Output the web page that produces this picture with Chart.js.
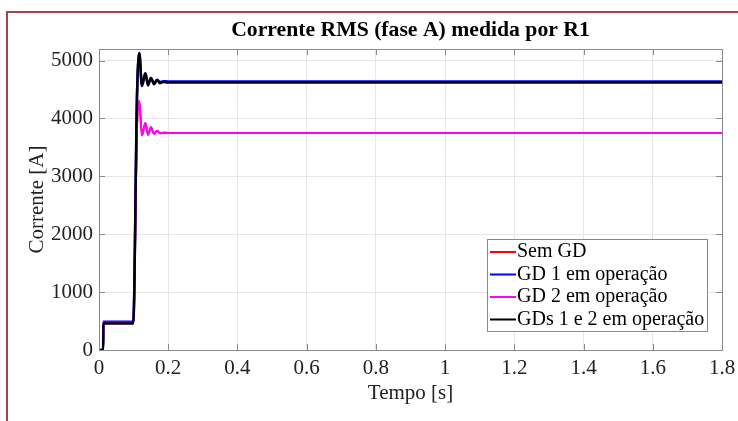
<!DOCTYPE html>
<html>
<head>
<meta charset="utf-8">
<script src="https://cdn.jsdelivr.net/npm/chart.js@4"></script>
<style>
  body { margin: 0; background: #fff; }
  #wrap { position: relative; width: 738px; height: 421px; }
  #frame {
    position: absolute; left: 6px; top: 11px; right: 0; bottom: 0;
    border-left: 2px solid #a64545; border-top: 2px solid #a64545;
  }
  canvas { position: absolute; left: 0; top: 0; }
</style>
</head>
<body>
<div id="wrap">
  <div id="frame"></div>
  <canvas id="chart" width="738" height="421"></canvas>
</div>
<script>
const serif = "'Liberation Serif', 'Times New Roman', serif";

// tempo em segundos (comum a todas as curvas)
const tempo = [0, 0.012, 0.0125, 0.099, 0.11, 0.1165, 0.124, 0.134, 0.1416, 0.150, 0.159, 0.168, 0.176, 0.185, 0.2, 1.8];

const semGd   = [0, 0, 470, 470, 3900, 4300, 3710, 3920, 3720, 3850, 3735, 3790, 3745, 3755, 3750, 3750];
const gd1     = [0, 0, 490, 490, 4440, 5130, 4580, 4780, 4590, 4700, 4610, 4670, 4630, 4645, 4640, 4640];
const gd2     = [0, 0, 470, 470, 3900, 4300, 3710, 3920, 3720, 3850, 3735, 3790, 3745, 3755, 3750, 3750];
const gds12   = [0, 0, 460, 460, 4440, 5130, 4560, 4780, 4570, 4700, 4590, 4665, 4610, 4630, 4620, 4620];

const nomes = ["Sem GD", "GD 1 em operação", "GD 2 em operação", "GDs 1 e 2 em operação"];
const cores = ["#ff0000", "#0000ff", "#ff00ff", "#000000"];
const larguras = [2, 2.5, 2, 2.5];
const series = [semGd, gd1, gd2, gds12];

const ticksY = [0, 1000, 2000, 3000, 4000, 5000];
const ticksX = [0, 0.2, 0.4, 0.6, 0.8, 1, 1.2, 1.4, 1.6, 1.8];

function pontos(valores) {
    return tempo.map((t, i) => ({ x: t, y: valores[i] }));
}

// caixa dos eixos e marcas internas, como no MATLAB
const caixaEixos = {
    id: "caixaEixos",
    afterDatasetsDraw(chart) {
        const ctx = chart.ctx;
        const a = chart.chartArea;
        const xs = chart.scales.x;
        const ys = chart.scales.y;
        ctx.save();
        ctx.strokeStyle = "#8a8a8a";
        ctx.lineWidth = 1;
        ctx.beginPath();
        xs.ticks.forEach(tk => {
            const px = Math.round(xs.getPixelForValue(tk.value)) + 0.5;
            ctx.moveTo(px, a.bottom); ctx.lineTo(px, a.bottom - 6);
            ctx.moveTo(px, a.top); ctx.lineTo(px, a.top + 6);
        });
        ys.ticks.forEach(tk => {
            const py = Math.round(ys.getPixelForValue(tk.value)) + 0.5;
            ctx.moveTo(a.left, py); ctx.lineTo(a.left + 6, py);
            ctx.moveTo(a.right, py); ctx.lineTo(a.right - 6, py);
        });
        ctx.stroke();
        ctx.strokeRect(Math.round(a.left) + 0.5, Math.round(a.top) + 0.5,
            Math.round(a.right - a.left), Math.round(a.bottom - a.top));
        ctx.restore();
    }
};

// legenda dentro da área do gráfico, canto inferior direito
const legendaInterna = {
    id: "legendaInterna",
    afterDraw(chart) {
        const ctx = chart.ctx;
        const a = chart.chartArea;
        const w = 220, lh = 22.5, h = 92;
        const x0 = a.right - 15 - w;
        const y0 = a.bottom - 19 - h;
        ctx.save();
        ctx.fillStyle = "#fff";
        ctx.fillRect(x0, y0, w, h);
        ctx.strokeStyle = "#8a8a8a";
        ctx.lineWidth = 1;
        ctx.strokeRect(x0 + 0.5, y0 + 0.5, w, h);
        ctx.font = "20px " + serif;
        ctx.textBaseline = "middle";
        chart.data.datasets.forEach((ds, i) => {
            const cy = y0 + 13 + i * lh;
            ctx.strokeStyle = ds.borderColor;
            ctx.lineWidth = 2;
            ctx.beginPath();
            ctx.moveTo(x0 + 3, cy);
            ctx.lineTo(x0 + 29, cy);
            ctx.stroke();
            ctx.fillStyle = "#000";
            ctx.fillText(ds.label, x0 + 30, cy);
        });
        ctx.restore();
    }
};

function startChart() {
    const ctx = document.getElementById("chart");

    chart = new Chart(ctx, {
        type: "line",
        data: {
            datasets: series.map((s, i) => ({
                label: nomes[i],
                data: pontos(s),
                borderColor: cores[i],
                backgroundColor: cores[i],
                borderWidth: larguras[i],
                pointRadius: 0,
                cubicInterpolationMode: "monotone",
                fill: false,
                // a última curva fica por cima
                order: series.length - i
            }))
        },
        options: {
            responsive: false,
            animation: false,
            events: [],
            layout: { padding: { left: 0, right: 16, top: 0, bottom: 0 } },
            plugins: {
                legend: { display: false },
                tooltip: { enabled: false },
                title: {
                    display: true,
                    fullSize: false,
                    text: "Corrente RMS (fase A) medida por R1",
                    color: "#000",
                    font: { family: serif, size: 21.7, weight: "bold" },
                    padding: { top: 17, bottom: 6 }
                }
            },
            scales: {
                x: {
                    type: "linear",
                    min: 0,
                    max: 1.8,
                    grid: { color: "#e6e6e6", drawTicks: false },
                    border: { display: false },
                    afterBuildTicks(scale) {
                        scale.ticks = ticksX.map(v => ({ value: v }));
                    },
                    ticks: {
                        padding: 6,
                        color: "#222",
                        maxRotation: 0,
                        autoSkip: false,
                        font: { family: serif, size: 21 },
                        callback: v => String(v)
                    },
                    title: {
                        display: true,
                        text: "Tempo [s]",
                        color: "#222",
                        font: { family: serif, size: 21 },
                        padding: { top: 0, bottom: 15 }
                    },
                    afterFit(scale) {
                        scale.height = 71;
                        scale.paddingLeft = 0;
                        scale.paddingRight = 0;
                    }
                },
                y: {
                    min: 0,
                    max: 5200,
                    grid: { color: "#e6e6e6", drawTicks: false },
                    border: { display: false },
                    afterBuildTicks(scale) {
                        scale.ticks = ticksY.map(v => ({ value: v }));
                    },
                    ticks: {
                        padding: 6,
                        color: "#222",
                        autoSkip: false,
                        font: { family: serif, size: 21 },
                        callback: v => String(v)
                    },
                    title: {
                        display: true,
                        text: "Corrente [A]",
                        color: "#222",
                        font: { family: serif, size: 21 },
                        padding: { top: 25, bottom: 0 }
                    },
                    afterFit(scale) {
                        scale.width = 99;
                        scale.paddingTop = 0;
                        scale.paddingBottom = 0;
                    }
                }
            }
        },
        plugins: [caixaEixos, legendaInterna]
    });
}

let chart;
startChart();
</script>
</body>
</html>
